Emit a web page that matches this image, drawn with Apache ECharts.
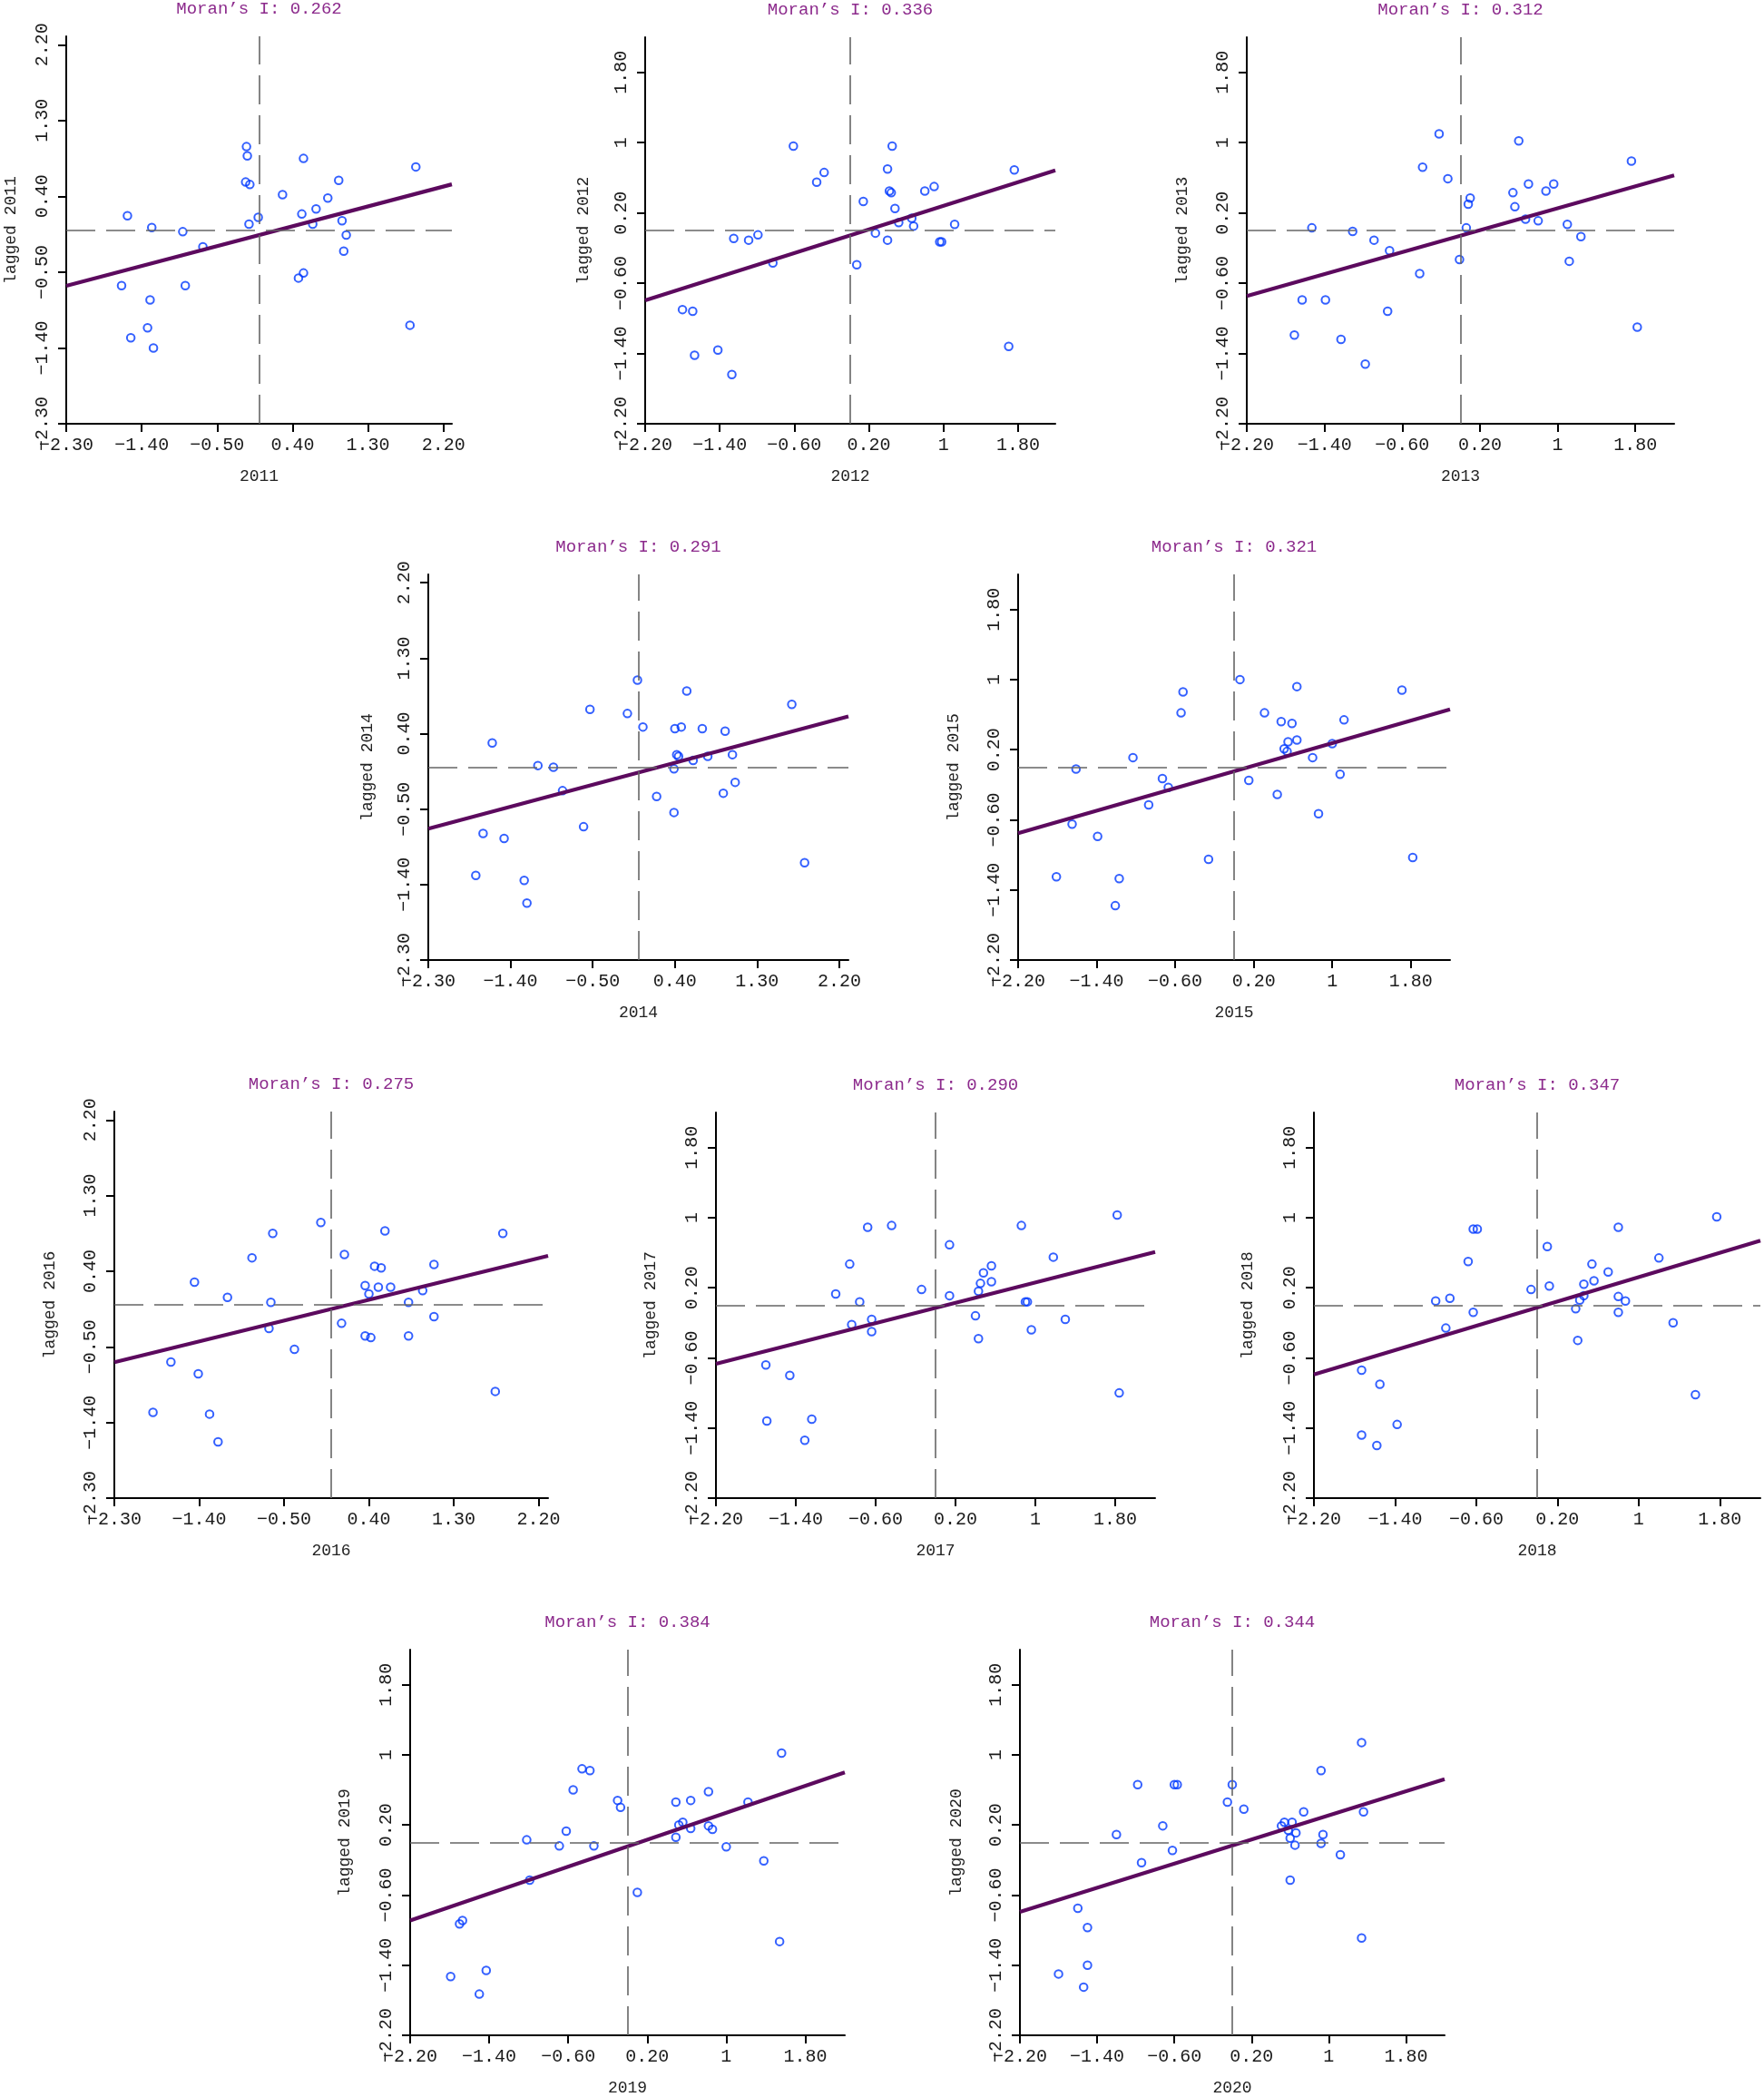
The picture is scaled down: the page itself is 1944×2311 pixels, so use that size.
<!DOCTYPE html>
<html><head><meta charset="utf-8">
<script src="https://cdn.jsdelivr.net/npm/echarts@6/dist/echarts.min.js"></script>
<style>html,body{margin:0;padding:0;background:#fff}#c{width:1944px;height:2311px}</style>
</head><body><div id="c"></div>
<script>
// ---------- data ----------
const years = ['2011','2012','2013','2014','2015','2016','2017','2018','2019','2020'];
const moranI = [0.262,0.336,0.312,0.291,0.321,0.275,0.290,0.347,0.384,0.344];
const intercepts = [-0.06,-0.056,-0.06,-0.064,-0.047,-0.05,-0.03,-0.025,-0.045,-0.035];
const axisKind = ['A','B','B','A','B','A','B','B','B','B'];
const ticksA = [-2.3,-1.4,-0.5,0.4,1.3,2.2];
const tickLabelsA = ['\u22122.30','\u22121.40','\u22120.50','0.40','1.30','2.20'];
const ticksB = [-2.2,-1.4,-0.6,0.2,1,1.8];
const tickLabelsB = ['\u22122.20','\u22121.40','\u22120.60','0.20','1','1.80'];
const extentA = 2.3, extentB = 2.2;

const pts2011 = [[-0.15,0.99],[-0.14,0.88],[0.53,0.85],[1.87,0.75],[0.95,0.59],[-0.16,0.57],[-0.11,0.54],[0.28,0.42],[0.82,0.38],[0.68,0.25],[-1.57,0.17],[-0.01,0.15],[0.51,0.19],[0.99,0.11],[-1.28,0.03],[-0.12,0.07],[0.64,0.07],[-0.91,-0.02],[1.04,-0.06],[-0.67,-0.20],[1.01,-0.25],[0.53,-0.51],[0.47,-0.57],[-1.64,-0.66],[-0.88,-0.66],[-1.30,-0.83],[-1.33,-1.16],[-1.53,-1.28],[-1.26,-1.40],[1.80,-1.13]];
const pts2012 = [[-0.61,0.96],[0.45,0.96],[0.40,0.70],[-0.28,0.66],[1.76,0.69],[-0.36,0.55],[0.90,0.50],[0.80,0.45],[0.42,0.45],[0.44,0.43],[0.14,0.33],[0.48,0.25],[0.66,0.14],[0.52,0.09],[0.68,0.05],[1.12,0.07],[0.27,-0.03],[0.40,-0.11],[0.96,-0.13],[0.98,-0.13],[-1.25,-0.09],[-1.09,-0.11],[-0.99,-0.05],[-0.83,-0.37],[0.07,-0.39],[-1.80,-0.90],[-1.69,-0.92],[-1.67,-1.42],[-1.42,-1.36],[-1.27,-1.64],[1.70,-1.32]];
const pts2013 = [[-0.22,1.10],[0.60,1.02],[1.76,0.79],[-0.39,0.72],[-0.13,0.59],[0.70,0.53],[0.96,0.53],[0.88,0.45],[0.54,0.43],[0.10,0.37],[0.08,0.30],[0.56,0.27],[0.67,0.13],[0.80,0.11],[1.10,0.07],[0.06,0.03],[-1.53,0.03],[-1.11,-0.01],[-0.89,-0.11],[1.24,-0.07],[-0.73,-0.23],[-0.01,-0.33],[1.12,-0.35],[-0.42,-0.49],[-1.63,-0.79],[-1.39,-0.79],[-0.75,-0.92],[-1.71,-1.19],[-1.23,-1.24],[-0.98,-1.52],[1.82,-1.10]];
const pts2014 = [[-0.01,1.04],[0.53,0.91],[1.68,0.75],[-0.53,0.69],[-0.12,0.64],[0.05,0.48],[0.47,0.48],[0.40,0.46],[0.70,0.46],[0.95,0.43],[-1.60,0.29],[0.42,0.15],[0.44,0.13],[0.76,0.13],[1.03,0.15],[0.60,0.08],[-1.10,0.02],[-0.93,0.00],[0.39,-0.02],[-0.83,-0.28],[1.06,-0.18],[0.93,-0.31],[0.20,-0.35],[0.39,-0.54],[-0.60,-0.71],[-1.70,-0.79],[-1.47,-0.85],[-1.78,-1.29],[-1.25,-1.35],[-1.22,-1.62],[1.82,-1.14]];
const pts2015 = [[0.06,1.00],[0.64,0.92],[-0.52,0.86],[1.71,0.88],[-0.54,0.62],[0.31,0.62],[0.48,0.52],[0.59,0.50],[1.12,0.54],[0.55,0.29],[0.64,0.31],[0.51,0.21],[0.54,0.18],[1.00,0.27],[0.80,0.11],[-1.03,0.11],[-1.61,-0.02],[1.08,-0.08],[-0.73,-0.13],[-0.67,-0.23],[0.15,-0.15],[0.44,-0.31],[-0.87,-0.43],[0.86,-0.53],[-1.65,-0.65],[-1.39,-0.79],[-0.26,-1.05],[-1.81,-1.25],[-1.17,-1.27],[-1.21,-1.58],[1.82,-1.03]];
const pts2016 = [[-0.11,0.98],[-0.62,0.85],[0.57,0.88],[1.82,0.85],[0.14,0.60],[-0.84,0.56],[1.09,0.48],[0.46,0.46],[0.53,0.44],[-1.45,0.27],[0.36,0.23],[0.50,0.21],[0.63,0.21],[0.97,0.17],[0.40,0.13],[-1.10,0.09],[-0.64,0.03],[0.82,0.03],[0.11,-0.22],[1.09,-0.14],[-0.66,-0.28],[0.36,-0.37],[0.42,-0.39],[0.82,-0.37],[-0.39,-0.53],[-1.70,-0.68],[-1.41,-0.82],[1.74,-1.03],[-1.89,-1.28],[-1.29,-1.30],[-1.20,-1.63]];
const pts2017 = [[1.82,1.03],[-0.68,0.89],[-0.44,0.91],[0.86,0.91],[0.14,0.69],[1.18,0.55],[-0.86,0.47],[0.56,0.45],[0.48,0.37],[0.56,0.27],[0.45,0.25],[-0.14,0.18],[-1.00,0.13],[0.14,0.11],[0.43,0.16],[-0.76,0.04],[0.90,0.04],[0.92,0.04],[0.40,-0.12],[-0.64,-0.16],[1.30,-0.16],[-0.84,-0.22],[-0.64,-0.30],[0.96,-0.28],[0.43,-0.38],[-1.70,-0.68],[-1.46,-0.80],[1.84,-1.00],[-1.69,-1.32],[-1.24,-1.30],[-1.31,-1.54]];
const pts2018 = [[1.77,1.01],[-0.63,0.87],[-0.59,0.87],[0.80,0.89],[0.10,0.67],[-0.68,0.50],[1.20,0.54],[0.54,0.47],[0.70,0.38],[0.56,0.28],[0.46,0.24],[0.12,0.22],[-0.06,0.18],[0.80,0.10],[0.46,0.11],[0.42,0.06],[0.87,0.05],[-1.00,0.05],[-0.86,0.08],[0.38,-0.04],[-0.63,-0.08],[0.80,-0.08],[1.34,-0.20],[-0.90,-0.26],[0.40,-0.40],[-1.73,-0.74],[-1.55,-0.90],[1.56,-1.02],[-1.38,-1.36],[-1.73,-1.48],[-1.58,-1.60]];
const pts2019 = [[1.56,1.02],[-0.46,0.84],[-0.38,0.82],[-0.55,0.60],[0.82,0.58],[-0.10,0.48],[0.64,0.48],[0.49,0.46],[1.22,0.46],[-0.07,0.40],[0.56,0.23],[0.52,0.20],[0.82,0.19],[0.64,0.16],[0.86,0.15],[-0.62,0.13],[0.49,0.06],[-1.02,0.03],[-0.69,-0.04],[-0.34,-0.04],[1.00,-0.05],[1.38,-0.21],[-0.99,-0.43],[0.10,-0.57],[-1.67,-0.89],[-1.70,-0.93],[1.54,-1.13],[-1.43,-1.46],[-1.79,-1.53],[-1.50,-1.73]];
const pts2020 = [[1.34,1.14],[0.92,0.82],[-0.98,0.66],[-0.60,0.66],[-0.57,0.66],[0.00,0.66],[-0.05,0.46],[0.12,0.38],[0.74,0.35],[1.36,0.35],[0.54,0.23],[0.62,0.23],[0.51,0.19],[-0.72,0.19],[0.58,0.14],[0.66,0.11],[0.94,0.09],[-1.20,0.09],[0.60,0.05],[0.65,-0.03],[0.92,-0.01],[-0.62,-0.09],[1.12,-0.14],[-0.94,-0.23],[0.60,-0.43],[-1.60,-0.75],[-1.50,-0.97],[1.34,-1.09],[-1.50,-1.40],[-1.80,-1.50],[-1.54,-1.65]];
const allPts = [pts2011,pts2012,pts2013,pts2014,pts2015,pts2016,pts2017,pts2018,pts2019,pts2020];
const meanX = 0, meanY = 0;

// ---------- layout (pixels) ----------
const boxes = [
  [73,40,425,427],[711,41,452,426],[1374,41,471,426],
  [472,633,463,425],[1122,633,476,425],
  [126,1225,478,426],[789,1226,484,425],[1448,1226,492,425],
  [452,1818,479,425],[1124,1818,468,425]
];
const yNameGaps = [52,59,62,58,62,62,63,64,63,61];

const FONT = 'Liberation Mono';
const grids = [], xAxes = [], yAxes = [], series = [], titles = [];

years.forEach((yr, i) => {
  const [l, t, w, h] = boxes[i];
  const isA = axisKind[i] === 'A';
  const ticks = isA ? ticksA : ticksB;
  const labs = isA ? tickLabelsA : tickLabelsB;
  const ext = isA ? extentA : extentB;
  const fmt = v => { const k = ticks.findIndex(tk => Math.abs(tk - v) < 1e-6); return k >= 0 ? labs[k] : ''; };
  grids.push({left: l, top: t, width: w, height: h, containLabel: false, outerBoundsMode: 'none'});
  titles.push({
    text: 'Moran\u2019s I: ' + moranI[i].toFixed(3),
    left: l + w / 2, top: t - 40, textAlign: 'center', padding: 0,
    textStyle: {fontFamily: FONT, fontSize: 19, fontWeight: 'normal', color: '#8C2A8C'}
  });
  const axisCommon = {
    type: 'value', min: -ext, max: ext, gridIndex: i,
    splitLine: {show: false},
    axisLine: {show: true, onZero: false, lineStyle: {color: '#000', width: 2}},
    axisTick: {show: true, inside: false, length: 9, customValues: ticks, lineStyle: {color: '#000', width: 2}},
    nameLocation: 'middle',
    nameTextStyle: {fontFamily: FONT, fontSize: 18, color: '#222'}
  };
  xAxes.push(Object.assign({}, axisCommon, {
    name: yr, nameGap: 49,
    axisLabel: {customValues: ticks, formatter: fmt, margin: 14, fontFamily: FONT, fontSize: 20, color: '#1a1a1a'}
  }));
  yAxes.push(Object.assign({}, axisCommon, {
    name: 'lagged ' + yr, nameGap: yNameGaps[i], nameRotate: 90,
    axisLabel: {customValues: ticks, formatter: fmt, rotate: 90, margin: 16, fontFamily: FONT, fontSize: 20, color: '#1a1a1a'}
  }));
  series.push({
    type: 'scatter', xAxisIndex: i, yAxisIndex: i, data: allPts[i],
    symbol: 'circle', symbolSize: 8.5, z: 2,
    itemStyle: {color: 'rgba(0,0,0,0)', borderColor: '#0038FF', borderWidth: 2},
    emphasis: {disabled: true}, silent: true,
    markLine: {
      silent: true, symbol: ['none', 'none'], animation: false,
      label: {show: false},
      lineStyle: {type: [32, 12], color: '#666666', width: 1.6},
      data: [{xAxis: meanX}, {yAxis: meanY}]
    }
  });
  const b = moranI[i], a = intercepts[i];
  series.push({
    type: 'line', xAxisIndex: i, yAxisIndex: i, z: 3,
    data: [[-ext, a + b * (-ext)], [ext, a + b * ext]],
    showSymbol: false, symbol: 'none', clip: true, silent: true,
    lineStyle: {color: '#5C0A5E', width: 4.2}
  });
});

const chart = echarts.init(document.getElementById('c'), null, {renderer: 'canvas'});
chart.setOption({
  animation: false,
  backgroundColor: '#ffffff',
  title: titles, grid: grids, xAxis: xAxes, yAxis: yAxes, series: series
});
</script></body></html>
